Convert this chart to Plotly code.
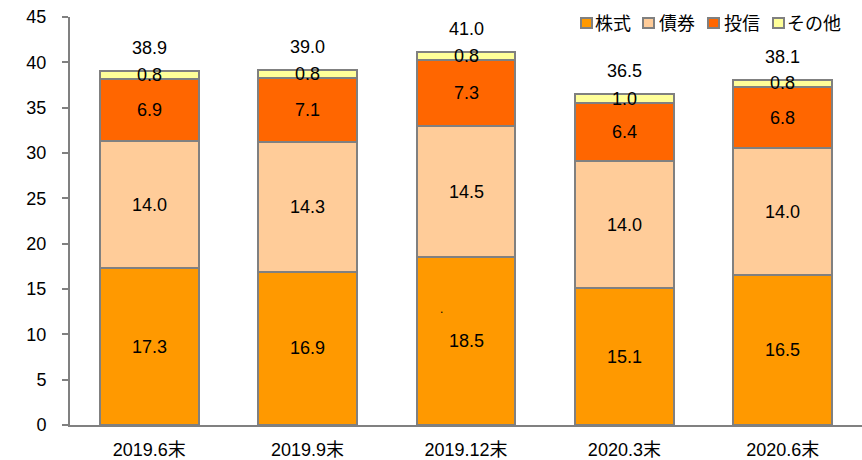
import plotly.graph_objects as go

categories = ["2019.6末", "2019.9末", "2019.12末", "2020.3末", "2020.6末"]
series_names = ["株式", "債券", "投信", "その他"]
stocks = [17.3, 16.9, 18.5, 15.1, 16.5]
bonds = [14.0, 14.3, 14.5, 14.0, 14.0]
funds = [6.9, 7.1, 7.3, 6.4, 6.8]
others = [0.8, 0.8, 0.8, 1.0, 0.8]
totals = [38.9, 39.0, 41.0, 36.5, 38.1]
y_ticks = [0, 5, 10, 15, 20, 25, 30, 35, 40, 45]

colors = ["#FF9900", "#FFCC99", "#FF6600", "#FFFF99"]
series = [stocks, bonds, funds, others]
FONT = "Liberation Sans, Arial, Noto Sans CJK JP, sans-serif"
LEG_FONT = "Noto Sans CJK JP, Liberation Sans, sans-serif"
SZ = 18

fig = go.Figure()
for name, vals, col in zip(series_names, series, colors):
    fig.add_trace(go.Bar(
        x=categories, y=vals, name=name, showlegend=False,
        marker=dict(color=col, line=dict(color="#808080", width=2)),
        hoverinfo="skip",
    ))

annotations = []
base = [0.0] * len(categories)
for vals in series:
    for i, (c, v) in enumerate(zip(categories, vals)):
        annotations.append(dict(
            x=c, y=base[i] + v / 2, text=f"{v:.1f}", showarrow=False,
            font=dict(size=SZ, color="#000000", family=FONT),
            xref="x", yref="y",
        ))
        base[i] += v
for i, (c, t) in enumerate(zip(categories, totals)):
    annotations.append(dict(
        x=c, y=base[i], text=f"{t:.1f}", showarrow=False,
        yanchor="bottom", yshift=11,
        font=dict(size=SZ, color="#000000", family=FONT),
        xref="x", yref="y",
    ))
# stray dot visible in the original
annotations.append(dict(x=categories[2], y=12.8, text=".", showarrow=False,
                        xshift=-25, font=dict(size=12, color="#000000", family=FONT)))

# custom legend (pixel offsets from the plot's top-right corner)
shapes = []
leg_marker_x = [-281, -219, -154, -89]
leg_text_x = [-269, -205, -140, -77]
for name, col, mx, tx in zip(series_names, colors, leg_marker_x, leg_text_x):
    shapes.append(dict(
        type="rect", xref="paper", yref="paper", xsizemode="pixel", ysizemode="pixel",
        xanchor=1, yanchor=1, x0=mx, x1=mx + 11, y0=-11, y1=-1,
        fillcolor=col, line=dict(color="#808080", width=2),
    ))
    annotations.append(dict(
        x=1, y=1, xref="paper", yref="paper", xanchor="left", yanchor="middle",
        xshift=tx, yshift=-5, text=name, showarrow=False,
        font=dict(size=SZ, color="#000000", family=LEG_FONT),
    ))

fig.update_layout(
    barmode="stack",
    bargap=0.377,
    width=862, height=460,
    margin=dict(l=70, r=0, t=17, b=35),
    paper_bgcolor="white", plot_bgcolor="white",
    font=dict(family=FONT, size=SZ, color="#000000"),
    annotations=annotations,
    shapes=shapes,
    showlegend=False,
    xaxis=dict(
        showline=True, linecolor="#808080", linewidth=2,
        ticks="", showgrid=False, ticklabelstandoff=7,
        tickfont=dict(size=SZ, family=FONT, color="#000000"),
    ),
    yaxis=dict(
        range=[0, 45], tickvals=y_ticks, ticktext=[str(v) for v in y_ticks],
        showline=True, linecolor="#808080", linewidth=2,
        ticks="outside", ticklen=6, tickcolor="#808080", tickwidth=2,
        showgrid=False, zeroline=False,
        tickfont=dict(size=SZ, family=FONT, color="#000000"),
        ticklabelstandoff=12,
    ),
)

fig.write_html("out.html", config={"displayModeBar": False},
               post_script="document.body.style.margin='0';")
